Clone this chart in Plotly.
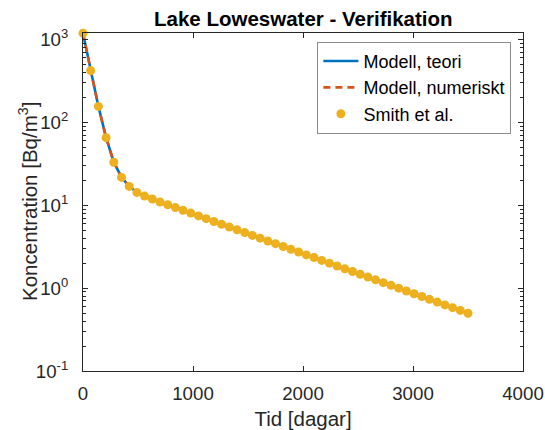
import plotly.graph_objects as go

# ---- data ----
days = [70 * i for i in range(51)]
smith = [1190, 422, 156, 65.5, 33.1, 21.7, 16.9, 14.3, 12.9, 11.9,
         10.96, 10.14, 9.38, 8.69, 8.04, 7.44, 6.89, 6.38, 5.90, 5.46,
         5.06, 4.68, 4.33, 4.01, 3.71, 3.44, 3.18, 2.94, 2.73, 2.52,
         2.34, 2.16, 2.00, 1.85, 1.71, 1.59, 1.47, 1.36, 1.26, 1.165,
         1.08, 1.00, 0.924, 0.855, 0.792, 0.733, 0.678, 0.628, 0.581, 0.538,
         0.498]
model_theory = list(smith)
model_numeric = list(smith)

x_ticks = [0, 1000, 2000, 3000, 4000]
y_ticks = [0.1, 1, 10, 100, 1000]
y_ticktext = ["10<sup>-1</sup>", "10<sup>0</sup>", "10<sup>1</sup>", "10<sup>2</sup>", "10<sup>3</sup>"]

title_text = "<b>Lake Loweswater - Verifikation</b>"
x_label = "Tid [dagar]"
y_label = "Koncentration [Bq/m<sup>3</sup>]"
names = ["Modell, teori", "Modell, numeriskt", "Smith et al."]

# ---- styling ----
AX = "#262626"
FONT = "Liberation Sans, Arial, sans-serif"
minor_vals = [k * 10.0 ** e for e in range(-1, 4) for k in range(2, 10)]

fig = go.Figure()
fig.add_trace(go.Scatter(x=days, y=model_theory, mode="lines", name=names[0],
                         line=dict(color="#0072BD", width=2.6)))
fig.add_trace(go.Scatter(x=days, y=model_numeric, mode="lines", name=names[1],
                         line=dict(color="#D95319", width=2.6, dash="7px,5px")))
fig.add_trace(go.Scatter(x=days, y=smith, mode="markers", name=names[2],
                         marker=dict(color="#EDB120", size=9, line=dict(width=0)),
                         cliponaxis=False))

fig.update_layout(
    width=545, height=430,
    margin=dict(l=83, r=22, t=33, b=59, autoexpand=False),
    paper_bgcolor="white", plot_bgcolor="white",
    font=dict(family=FONT, size=18.7, color=AX),
    title=dict(text=title_text, x=0.5565, xanchor="center", y=0.957, yanchor="middle",
               font=dict(size=20.5, color="black", family=FONT)),
    showlegend=True,
    legend=dict(x=0.9736, xanchor="right", y=0.974, yanchor="top",
                bordercolor="#8c8c8c", borderwidth=1, bgcolor="white",
                font=dict(size=18, color="black", family=FONT),
                itemwidth=35),
    annotations=[dict(text=y_label, xref="paper", yref="paper", x=-0.125, y=0.5,
                      xanchor="center", yanchor="middle", textangle=-90, showarrow=False,
                      font=dict(size=20.5, color=AX, family=FONT))],
)
fig.update_xaxes(
    range=[0, 4000], tickvals=x_ticks, ticks="inside", ticklen=5, tickcolor=AX,
    showline=True, linecolor=AX, linewidth=1, mirror="ticks", showgrid=False,
    zeroline=False, ticklabelstandoff=6, automargin=False,
    title=dict(text=x_label, font=dict(size=20.5, color=AX), standoff=19),
)
fig.update_yaxes(
    type="log", range=[-1, 3.079], tickvals=y_ticks, ticktext=y_ticktext,
    ticks="inside", ticklen=5, tickcolor=AX,
    minor=dict(tickvals=minor_vals, ticks="inside", ticklen=3, tickcolor=AX),
    showline=True, linecolor=AX, linewidth=1, mirror="ticks", showgrid=False,
    zeroline=False, ticklabelstandoff=10, automargin=False,
)

fig.write_html("out.html")
